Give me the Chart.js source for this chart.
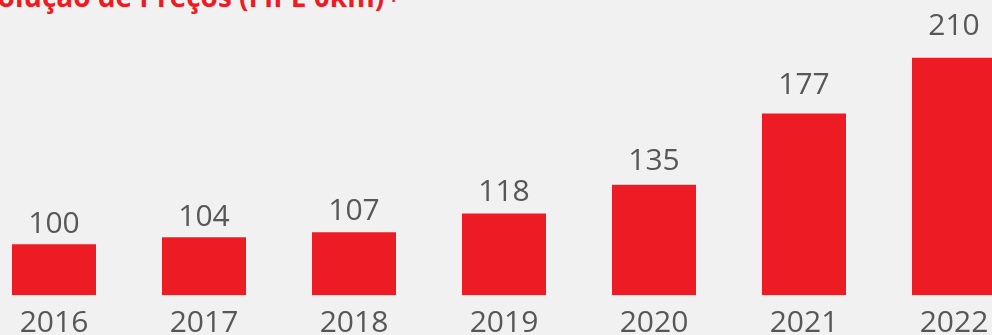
<!DOCTYPE html>
<html>
<head>
<meta charset="utf-8">
<script src="https://cdn.jsdelivr.net/npm/chart.js@4"></script>
<style>
  html, body { margin: 0; padding: 0; background: #f1f1f1; }
  body { width: 992px; height: 335px; overflow: hidden; position: relative; }
  #title {
    position: absolute; left: -34px; top: -18px;
    font: bold 28px "Open Sans", sans-serif; line-height: 28px;
    color: #ed1c24; white-space: nowrap;
  }
  #title sup { font-size: 16px; vertical-align: 5px; line-height: 0; margin-left: 4px; }
  #wrap { position: absolute; left: -21px; top: 0; width: 1050px; height: 335px; }
</style>
</head>
<body>
<div id="title">Evolução de Preços (FIPE 0km)<sup>1</sup></div>
<div id="wrap"><canvas id="chart"></canvas></div>
<script>
const anos = ['2016', '2017', '2018', '2019', '2020', '2021', '2022'];
const indice = [100, 104, 107, 118, 135, 177, 210];

const red = '#ed1c24';
const gray = '#575757';

// write each value just above its bar
const valueLabels = {
  id: 'valueLabels',
  afterDatasetsDraw(chart) {
    const ctx = chart.ctx;
    const meta = chart.getDatasetMeta(0);
    ctx.save();
    ctx.font = '30px "Open Sans", sans-serif';
    ctx.fillStyle = gray;
    ctx.textAlign = 'center';
    ctx.textBaseline = 'alphabetic';
    meta.data.forEach(function (bar, i) {
      const h = bar.base - bar.y;
      ctx.fillText(indice[i], bar.x, bar.y - (0 + 0.065 * h));
    });
    ctx.restore();
  }
};

new Chart(document.getElementById('chart'), {
  type: 'bar',
  data: {
    labels: anos,
    datasets: [{
      data: indice,
      backgroundColor: red,
      categoryPercentage: 1,
      barPercentage: 0.56
    }]
  },
  options: {
    responsive: true,
    maintainAspectRatio: false,
    animation: false,
    layout: { padding: 0 },
    plugins: {
      legend: { display: false },
      tooltip: { enabled: false }
    },
    scales: {
      x: {
        grid: { display: false, drawTicks: false },
        border: { display: false },
        afterFit(scale) { scale.height = 40; },
        ticks: {
          color: gray,
          padding: 10,
          font: { family: 'Open Sans', size: 30 }
        }
      },
      y: {
        display: false,
        min: 70,
        max: 244
      }
    }
  },
  plugins: [valueLabels]
});
</script>
</body>
</html>
